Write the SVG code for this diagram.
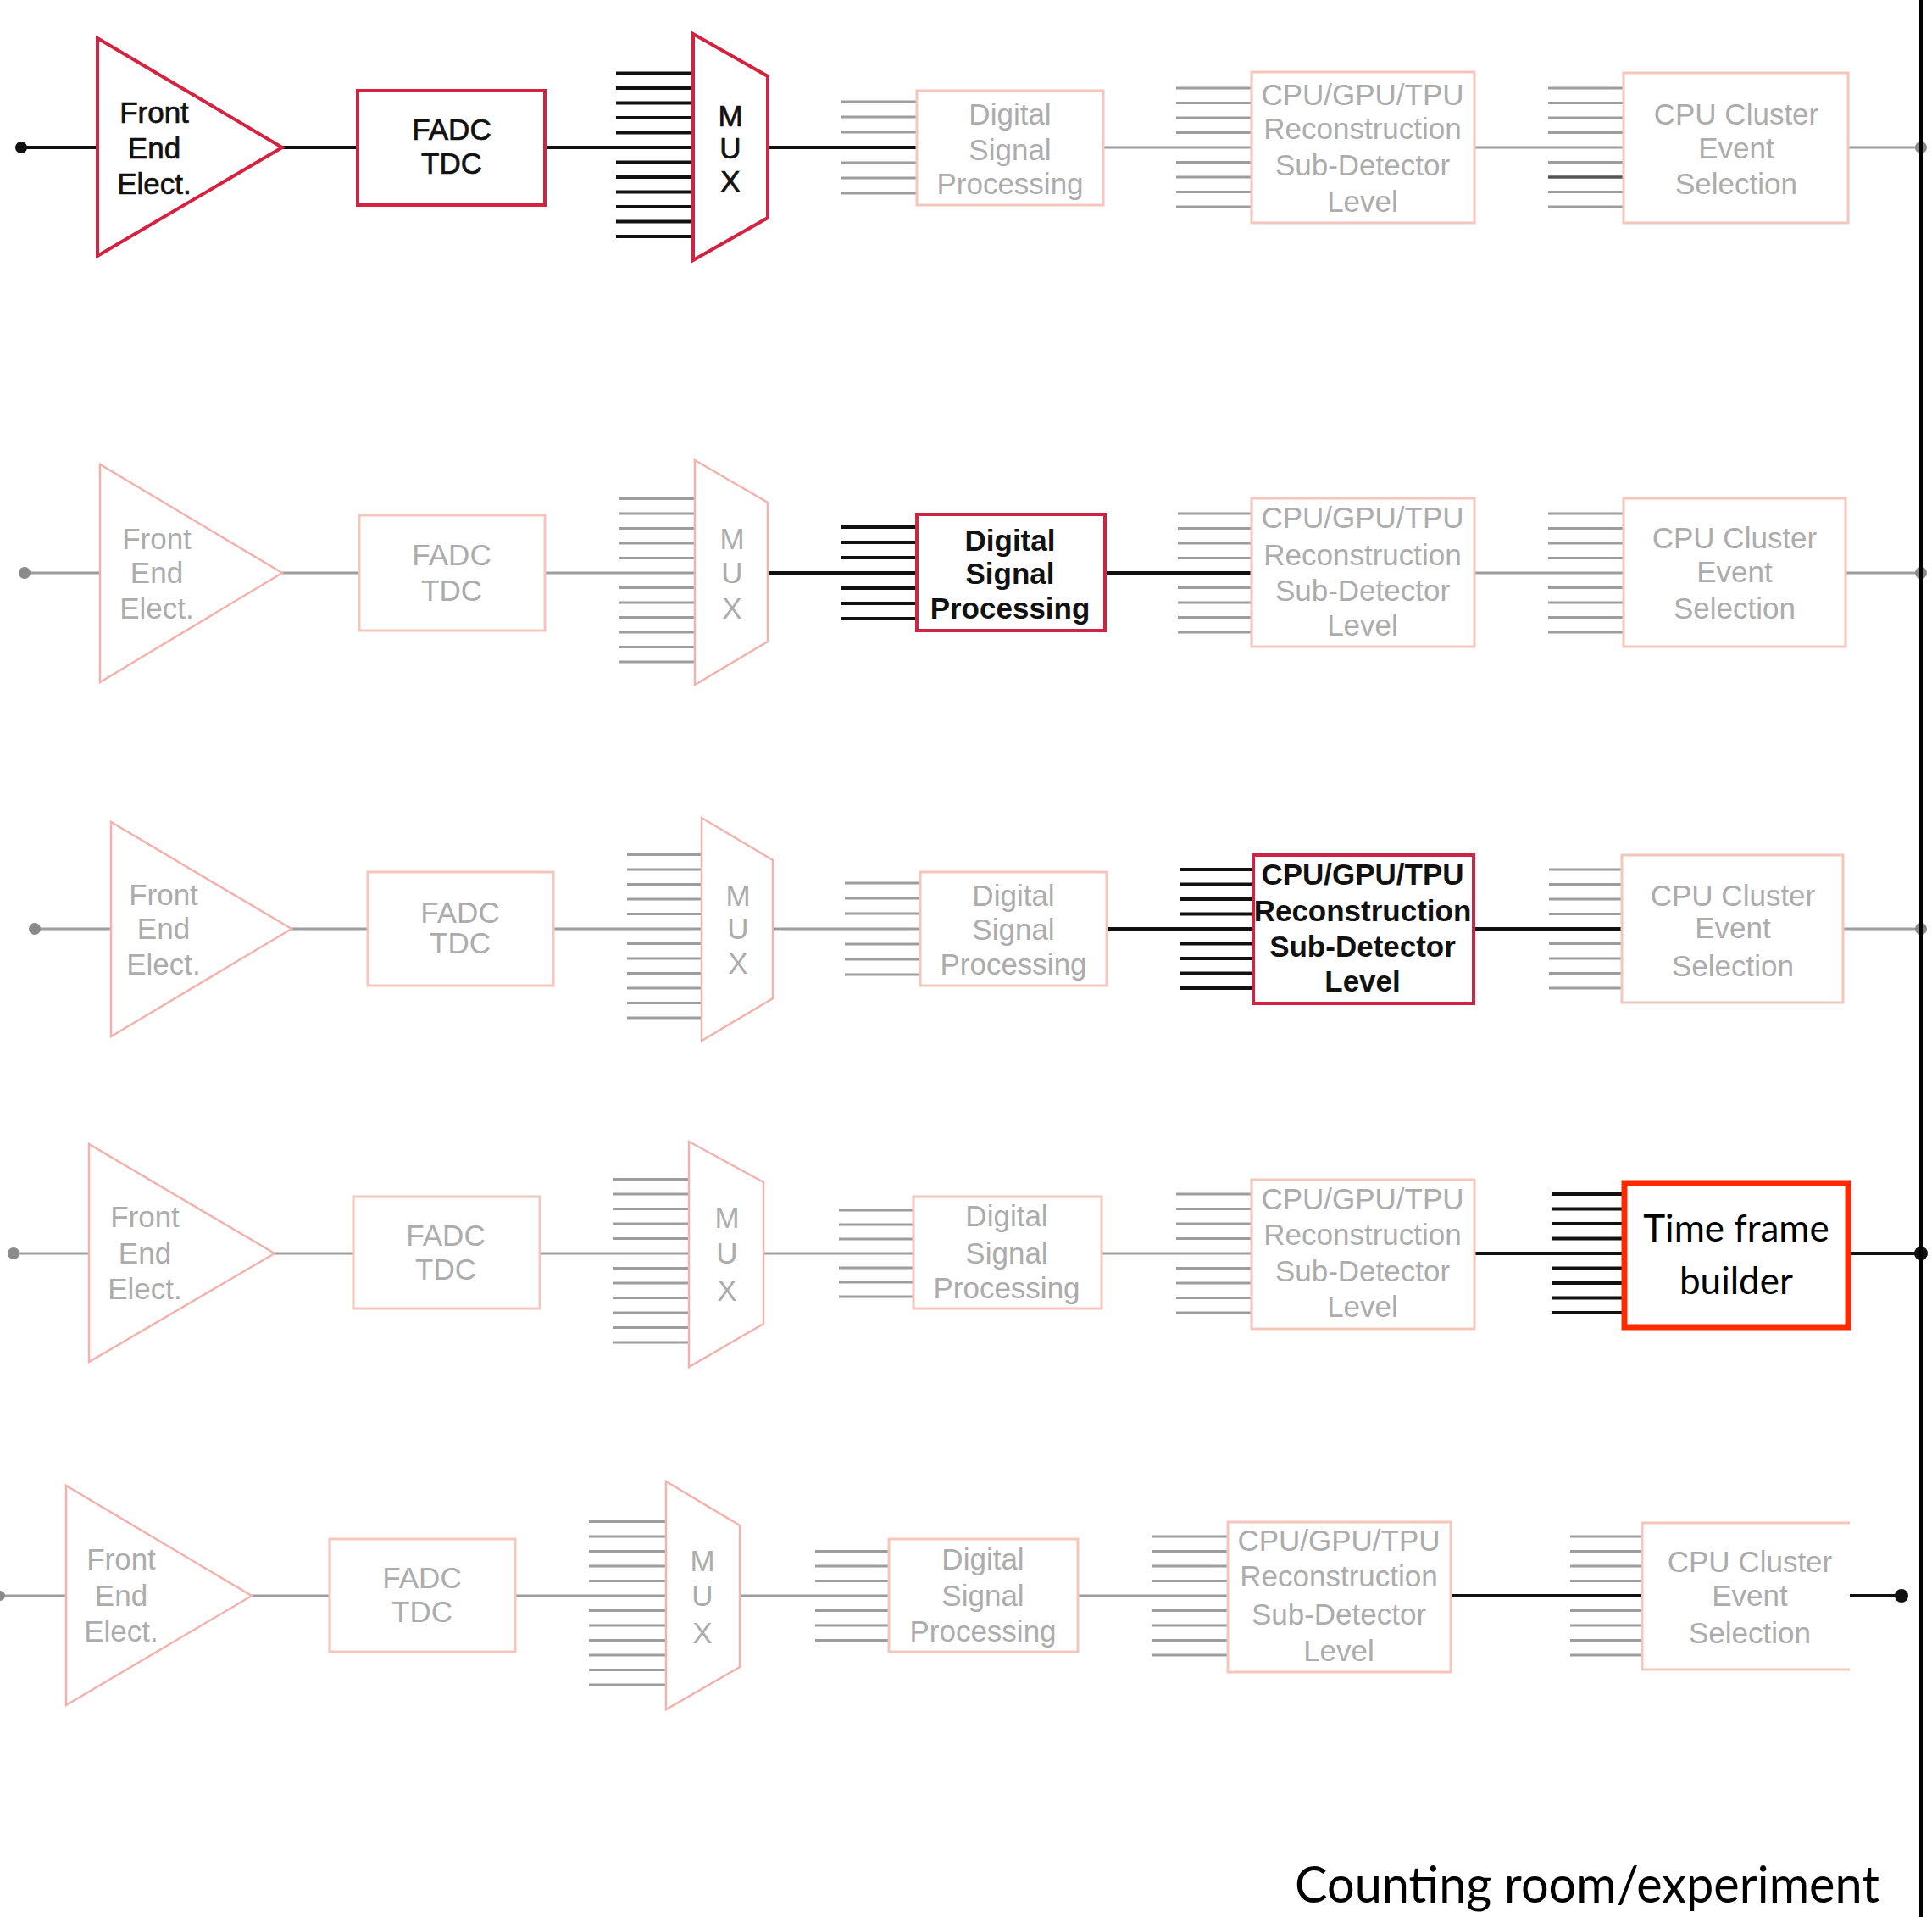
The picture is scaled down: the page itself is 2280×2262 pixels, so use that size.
<svg xmlns="http://www.w3.org/2000/svg" width="2280" height="2262" viewBox="0 0 2280 2262">
<style>
.t{font-family:"Liberation Sans",Arial,sans-serif;font-size:35px;text-anchor:middle}
.g{fill:#acacac}
.k{fill:#111}
.m{stroke:#111;stroke-width:0.7}
.b{font-weight:bold}
.fb{fill:#fff;stroke:#f4c6bc;stroke-width:3}
.fs{fill:#fff;stroke:#f2b3ae;stroke-width:2.5}
.hb{fill:#fff;stroke:#cc2443;stroke-width:4}
.gl{stroke:#9d9d9d;stroke-width:3;fill:none}
.bl{stroke:#111;stroke-width:4;fill:none}
.gd{fill:#8a8a8a}
.kd{fill:#111}
.tf{font-family:Lato,"Open Sans",sans-serif;font-size:44px;text-anchor:middle;fill:#000}
</style>
<rect width="2280" height="2262" fill="#fff"/>
<g id="connectors">
<!-- Row 1 -->
<path class="bl" d="M25 174H115M333 174H422M643 174H818M906 174H1082"/>
<path class="bl" d="M727 86.5H818M727 104H818M727 121.5H818M727 139H818M727 156.5H818M727 191.5H818M727 209H818M727 226.5H818M727 244H818M727 261.5H818M727 279H818"/>
<path class="gl" d="M993 120H1082M993 138H1082M993 156H1082M993 192H1082M993 210H1082M993 228H1082"/>
<path class="gl" d="M1302 174H1477M1740 174H1916M2181 174H2267"/>
<path class="gl" d="M1388 104H1477M1388 121.5H1477M1388 139H1477M1388 156.5H1477M1388 191.5H1477M1388 209H1477M1388 226.5H1477M1388 244H1477"/>
<path class="gl" d="M1827 104H1916M1827 121.5H1916M1827 139H1916M1827 156.5H1916M1827 191.5H1916M1827 226.5H1916M1827 244H1916"/>
<path d="M1827 209H1916" stroke="#555" stroke-width="3.5"/>
<circle class="kd" cx="25" cy="174" r="7"/>
<circle class="gd" cx="2267" cy="174" r="7"/>
<!-- Row 2 -->
<path class="gl" d="M29 676H118M333 676H424M643 676H820"/>
<path class="gl" d="M730 588.5H820M730 606H820M730 623.5H820M730 641H820M730 658.5H820M730 693.5H820M730 711H820M730 728.5H820M730 746H820M730 763.5H820M730 781H820"/>
<path class="bl" d="M906 676H1082M1304 676H1477"/>
<path class="bl" d="M993 622H1082M993 640H1082M993 658H1082M993 694H1082M993 712H1082M993 730H1082"/>
<path class="gl" d="M1390 606H1477M1390 623.5H1477M1390 641H1477M1390 658.5H1477M1390 693.5H1477M1390 711H1477M1390 728.5H1477M1390 746H1477"/>
<path class="gl" d="M1740 676H1916M2178 676H2267"/>
<path class="gl" d="M1827 606H1916M1827 623.5H1916M1827 641H1916M1827 658.5H1916M1827 693.5H1916M1827 711H1916M1827 728.5H1916M1827 746H1916"/>
<circle class="gd" cx="29" cy="676" r="7"/>
<circle class="gd" cx="2267" cy="676" r="7"/>
<!-- Row 3 -->
<path class="gl" d="M41 1096H131M344 1096H434M653 1096H828M912 1096H1086"/>
<path class="gl" d="M740 1008.5H828M740 1026H828M740 1043.5H828M740 1061H828M740 1078.5H828M740 1113.5H828M740 1131H828M740 1148.5H828M740 1166H828M740 1183.5H828M740 1201H828"/>
<path class="gl" d="M997 1042H1086M997 1060H1086M997 1078H1086M997 1114H1086M997 1132H1086M997 1150H1086"/>
<path class="bl" d="M1306 1096H1479M1739 1096H1914"/>
<path class="bl" d="M1392 1026H1479M1392 1043.5H1479M1392 1061H1479M1392 1078.5H1479M1392 1113.5H1479M1392 1131H1479M1392 1148.5H1479M1392 1166H1479"/>
<path class="gl" d="M1828 1026H1914M1828 1043.5H1914M1828 1061H1914M1828 1078.5H1914M1828 1113.5H1914M1828 1131H1914M1828 1148.5H1914M1828 1166H1914"/>
<path class="gl" d="M2175 1096H2267"/>
<circle class="gd" cx="41" cy="1096" r="7"/>
<circle class="gd" cx="2267" cy="1096" r="7"/>
<!-- Row 4 -->
<path class="gl" d="M16 1479H105M324 1479H417M637 1479H813M901 1479H1078M1300 1479H1477"/>
<path class="gl" d="M724 1391.5H813M724 1409H813M724 1426.5H813M724 1444H813M724 1461.5H813M724 1496.5H813M724 1514H813M724 1531.5H813M724 1549H813M724 1566.5H813M724 1584H813"/>
<path class="gl" d="M990 1428H1078M990 1445H1078M990 1462H1078M990 1496H1078M990 1513H1078M990 1530H1078"/>
<path class="gl" d="M1388 1409H1477M1388 1426.5H1477M1388 1444H1477M1388 1461.5H1477M1388 1496.5H1477M1388 1514H1477M1388 1531.5H1477M1388 1549H1477"/>
<path class="bl" d="M1740 1479H1916M2181 1479H2267"/>
<path class="bl" d="M1831 1409H1916M1831 1426.5H1916M1831 1444H1916M1831 1461.5H1916M1831 1496.5H1916M1831 1514H1916M1831 1531.5H1916M1831 1549H1916"/>
<circle class="gd" cx="16" cy="1479" r="7"/>
<circle class="kd" cx="2267" cy="1479" r="8"/>
<!-- Row 5 -->
<path class="gl" d="M0 1883H78M297 1883H389M608 1883H786M873 1883H1049M1272 1883H1449"/>
<path class="gl" d="M695 1795.5H786M695 1813H786M695 1830.5H786M695 1848H786M695 1865.5H786M695 1900.5H786M695 1918H786M695 1935.5H786M695 1953H786M695 1970.5H786M695 1988H786"/>
<path class="gl" d="M962 1830.5H1049M962 1848H1049M962 1865.5H1049M962 1900.5H1049M962 1918H1049M962 1935.5H1049"/>
<path class="gl" d="M1359 1813H1449M1359 1830.5H1449M1359 1848H1449M1359 1865.5H1449M1359 1900.5H1449M1359 1918H1449M1359 1935.5H1449M1359 1953H1449"/>
<path class="bl" d="M1712 1883H1938M2183 1883H2244"/>
<path class="gl" d="M1853 1813H1938M1853 1830.5H1938M1853 1848H1938M1853 1865.5H1938M1853 1900.5H1938M1853 1918H1938M1853 1935.5H1938M1853 1953H1938"/>
<circle class="gd" cx="0" cy="1883" r="6"/>
<circle class="kd" cx="2244" cy="1883" r="8"/>
<!-- boundary -->
<path d="M2267 0V2262" stroke="#000" stroke-width="4"/>
</g>

<!-- Row 1 nodes -->
<g id="r1-fe"><polygon points="115,45 115,302 333,174" fill="#fff" stroke="#d42340" stroke-width="4"/>
<text class="t k m" x="182"><tspan x="182" y="145">Front</tspan><tspan x="182" y="187">End</tspan><tspan x="182" y="229">Elect.</tspan></text></g>
<g id="r1-fadc"><rect x="422" y="107" width="221" height="135" fill="#fff" stroke="#d42340" stroke-width="4"/>
<text class="t k m"><tspan x="533" y="165">FADC</tspan><tspan x="533" y="205">TDC</tspan></text></g>
<g id="r1-mux"><polygon points="818,40 906,90 906,257 818,307" fill="#fff" stroke="#d42340" stroke-width="4"/>
<text class="t k m"><tspan x="862" y="149">M</tspan><tspan x="862" y="187">U</tspan><tspan x="862" y="226">X</tspan></text></g>
<g id="r1-dsp"><rect class="fb" x="1082" y="107" width="220" height="135"/>
<text class="t g"><tspan x="1192" y="147">Digital</tspan><tspan x="1192" y="189">Signal</tspan><tspan x="1192" y="229">Processing</tspan></text></g>
<g id="r1-cpu"><rect class="fb" x="1477" y="85" width="263" height="178"/>
<text class="t g"><tspan x="1608" y="124">CPU/GPU/TPU</tspan><tspan x="1608" y="164">Reconstruction</tspan><tspan x="1608" y="207">Sub-Detector</tspan><tspan x="1608" y="250">Level</tspan></text></g>
<g id="r1-cluster"><rect class="fb" x="1916" y="86" width="265" height="177"/>
<text class="t g"><tspan x="2049" y="147">CPU Cluster</tspan><tspan x="2049" y="187">Event</tspan><tspan x="2049" y="229">Selection</tspan></text></g>

<!-- Row 2 nodes -->
<g id="r2-fe"><polygon class="fs" points="118,548 118,805 333,676"/>
<text class="t g"><tspan x="185" y="648">Front</tspan><tspan x="185" y="688">End</tspan><tspan x="185" y="730">Elect.</tspan></text></g>
<g id="r2-fadc"><rect class="fb" x="424" y="608" width="219" height="136"/>
<text class="t g"><tspan x="533" y="667">FADC</tspan><tspan x="533" y="709">TDC</tspan></text></g>
<g id="r2-mux"><polygon class="fs" points="820,543 906,593 906,757 820,808"/>
<text class="t g"><tspan x="864" y="648">M</tspan><tspan x="864" y="688">U</tspan><tspan x="864" y="730">X</tspan></text></g>
<g id="r2-dsp"><rect class="hb" x="1082" y="607" width="222" height="137"/>
<text class="t k b"><tspan x="1192" y="650">Digital</tspan><tspan x="1192" y="689">Signal</tspan><tspan x="1192" y="730">Processing</tspan></text></g>
<g id="r2-cpu"><rect class="fb" x="1477" y="588" width="263" height="175"/>
<text class="t g"><tspan x="1608" y="623">CPU/GPU/TPU</tspan><tspan x="1608" y="667">Reconstruction</tspan><tspan x="1608" y="709">Sub-Detector</tspan><tspan x="1608" y="750">Level</tspan></text></g>
<g id="r2-cluster"><rect class="fb" x="1916" y="588" width="262" height="175"/>
<text class="t g"><tspan x="2047" y="647">CPU Cluster</tspan><tspan x="2047" y="687">Event</tspan><tspan x="2047" y="730">Selection</tspan></text></g>

<!-- Row 3 nodes -->
<g id="r3-fe"><polygon class="fs" points="131,970 131,1223 344,1096"/>
<text class="t g"><tspan x="193" y="1068">Front</tspan><tspan x="193" y="1108">End</tspan><tspan x="193" y="1150">Elect.</tspan></text></g>
<g id="r3-fadc"><rect class="fb" x="434" y="1029" width="219" height="134"/>
<text class="t g"><tspan x="543" y="1089">FADC</tspan><tspan x="543" y="1125">TDC</tspan></text></g>
<g id="r3-mux"><polygon class="fs" points="828,965 912,1015 912,1178 828,1228"/>
<text class="t g"><tspan x="871" y="1069">M</tspan><tspan x="871" y="1108">U</tspan><tspan x="871" y="1149">X</tspan></text></g>
<g id="r3-dsp"><rect class="fb" x="1086" y="1029" width="220" height="134"/>
<text class="t g"><tspan x="1196" y="1069">Digital</tspan><tspan x="1196" y="1109">Signal</tspan><tspan x="1196" y="1150">Processing</tspan></text></g>
<g id="r3-cpu"><rect class="hb" x="1479" y="1009" width="260" height="175"/>
<text class="t k b"><tspan x="1608" y="1044">CPU/GPU/TPU</tspan><tspan x="1608" y="1087">Reconstruction</tspan><tspan x="1608" y="1129">Sub-Detector</tspan><tspan x="1608" y="1170">Level</tspan></text></g>
<g id="r3-cluster"><rect class="fb" x="1914" y="1009" width="261" height="174"/>
<text class="t g"><tspan x="2045" y="1069">CPU Cluster</tspan><tspan x="2045" y="1107">Event</tspan><tspan x="2045" y="1152">Selection</tspan></text></g>

<!-- Row 4 nodes -->
<g id="r4-fe"><polygon class="fs" points="105,1350 105,1607 324,1479"/>
<text class="t g"><tspan x="171" y="1448">Front</tspan><tspan x="171" y="1491">End</tspan><tspan x="171" y="1533">Elect.</tspan></text></g>
<g id="r4-fadc"><rect class="fb" x="417" y="1412" width="220" height="132"/>
<text class="t g"><tspan x="526" y="1470">FADC</tspan><tspan x="526" y="1510">TDC</tspan></text></g>
<g id="r4-mux"><polygon class="fs" points="813,1347 901,1395 901,1562 813,1613"/>
<text class="t g"><tspan x="858" y="1449">M</tspan><tspan x="858" y="1491">U</tspan><tspan x="858" y="1535">X</tspan></text></g>
<g id="r4-dsp"><rect class="fb" x="1078" y="1412" width="222" height="132"/>
<text class="t g"><tspan x="1188" y="1447">Digital</tspan><tspan x="1188" y="1491">Signal</tspan><tspan x="1188" y="1532">Processing</tspan></text></g>
<g id="r4-cpu"><rect class="fb" x="1477" y="1392" width="263" height="176"/>
<text class="t g"><tspan x="1608" y="1427">CPU/GPU/TPU</tspan><tspan x="1608" y="1469">Reconstruction</tspan><tspan x="1608" y="1512">Sub-Detector</tspan><tspan x="1608" y="1554">Level</tspan></text></g>
<g id="r4-tfb"><rect x="1917" y="1396" width="264" height="170" fill="#fff" stroke="#ff2a00" stroke-width="7"/>
<text class="tf"><tspan x="2049" y="1465">Time frame</tspan><tspan x="2049" y="1527">builder</tspan></text></g>

<!-- Row 5 nodes -->
<g id="r5-fe"><polygon class="fs" points="78,1753 78,2012 297,1883"/>
<text class="t g"><tspan x="143" y="1852">Front</tspan><tspan x="143" y="1895">End</tspan><tspan x="143" y="1937">Elect.</tspan></text></g>
<g id="r5-fadc"><rect class="fb" x="389" y="1816" width="219" height="133"/>
<text class="t g"><tspan x="498" y="1874">FADC</tspan><tspan x="498" y="1914">TDC</tspan></text></g>
<g id="r5-mux"><polygon class="fs" points="786,1748 873,1800 873,1967 786,2017"/>
<text class="t g"><tspan x="829" y="1854">M</tspan><tspan x="829" y="1895">U</tspan><tspan x="829" y="1939">X</tspan></text></g>
<g id="r5-dsp"><rect class="fb" x="1049" y="1816" width="223" height="133"/>
<text class="t g"><tspan x="1160" y="1852">Digital</tspan><tspan x="1160" y="1895">Signal</tspan><tspan x="1160" y="1937">Processing</tspan></text></g>
<g id="r5-cpu"><rect class="fb" x="1449" y="1796" width="263" height="177"/>
<text class="t g"><tspan x="1580" y="1830">CPU/GPU/TPU</tspan><tspan x="1580" y="1872">Reconstruction</tspan><tspan x="1580" y="1917">Sub-Detector</tspan><tspan x="1580" y="1960">Level</tspan></text></g>
<g id="r5-cluster"><path d="M2183 1797H1938V1970H2183" fill="#fff" stroke="#f4c6bc" stroke-width="3"/>
<text class="t g"><tspan x="2065" y="1855">CPU Cluster</tspan><tspan x="2065" y="1895">Event</tspan><tspan x="2065" y="1939">Selection</tspan></text></g>

<g id="caption"><text x="1528" y="2245" font-family="Lato,'Open Sans',sans-serif" font-size="60" textLength="690" lengthAdjust="spacingAndGlyphs" fill="#000">Counting room/experiment</text></g>
</svg>
